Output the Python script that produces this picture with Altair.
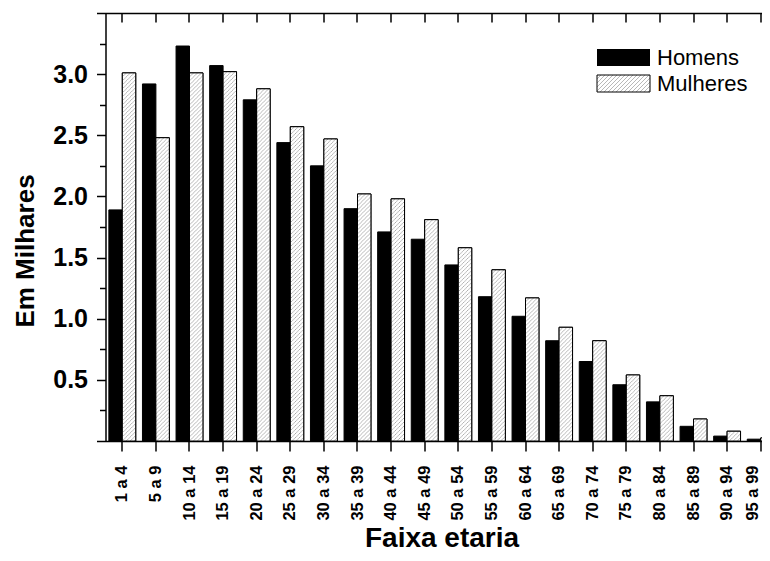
import altair as alt
import pandas as pd
from urllib.parse import quote

categories = ["1 a 4", "5 a 9", "10 a 14", "15 a 19", "20 a 24", "25 a 29", "30 a 34",
              "35 a 39", "40 a 44", "45 a 49", "50 a 54", "55 a 59", "60 a 64", "65 a 69",
              "70 a 74", "75 a 79", "80 a 84", "85 a 89", "90 a 94", "95 a 99"]
homens = [1.89, 2.92, 3.23, 3.07, 2.79, 2.44, 2.25, 1.90, 1.71, 1.65,
          1.44, 1.18, 1.02, 0.82, 0.65, 0.46, 0.32, 0.12, 0.04, 0.015]
mulheres = [3.01, 2.48, 3.01, 3.02, 2.88, 2.57, 2.47, 2.02, 1.98, 1.81,
            1.58, 1.40, 1.17, 0.93, 0.82, 0.54, 0.37, 0.18, 0.08, 0.025]
series = ["Homens", "Mulheres"]
y_ticks = [0, 0.25, 0.5, 0.75, 1.0, 1.25, 1.5, 1.75, 2.0, 2.25, 2.5, 2.75, 3.0, 3.25, 3.5]

df = pd.DataFrame({
    "faixa": categories * 2,
    "sexo": ["Homens"] * len(categories) + ["Mulheres"] * len(categories),
    "valor": homens + mulheres,
})
leg_df = pd.DataFrame({"sexo": series})

FONT = "Liberation Sans"

hatch_svg = (
    "<svg xmlns='http://www.w3.org/2000/svg'>"
    "<defs><pattern id='h' patternUnits='userSpaceOnUse' width='4' height='4'>"
    "<path d='M-1,1 l2,-2 M0,4 l4,-4 M3,5 l2,-2' stroke='#9a9a9a' stroke-width='0.7'/>"
    "</pattern></defs>"
    "<rect width='100%' height='100%' fill='white'/>"
    "<rect width='100%' height='100%' fill='url(#h)'/>"
    "</svg>"
)
HATCH = "data:image/svg+xml;charset=utf-8," + quote(hatch_svg, safe="")

# the frame of the original runs past the right edge of the picture
x_scale = alt.Scale(paddingInner=0.2, paddingOuter=0.1, range=[0, 672])
xoff = alt.XOffset("sexo:N", sort=series, scale=alt.Scale(paddingInner=0, paddingOuter=0))
y_scale = alt.Scale(domain=[0, 3.5], nice=False, zero=True)

last_cat = categories[-1]

bars = alt.Chart(df).mark_bar(stroke="black", strokeWidth=1).encode(
    x=alt.X("faixa:N", sort=categories, scale=x_scale, axis=alt.Axis(
        orient="bottom", labelAngle=270, labelAlign="right", labelBaseline="middle",
        labelFontSize=16.5, labelFontWeight="bold", labelPadding=14, tickSize=10,
        labelOffset={"condition": {"test": f"datum.value === '{last_cat}'", "value": -8}, "value": 0},
        labelOverlap=False, title="Faixa etaria", titleFontSize=28,
        titleFontWeight="bold", titleY=105, titleBaseline="alphabetic")),
    xOffset=xoff,
    y=alt.Y("valor:Q", scale=y_scale, axis=alt.Axis(
        orient="left", values=y_ticks,
        labelExpr="datum.value > 0 && datum.value < 3.5 && datum.value % 0.5 === 0 ? format(datum.value, '.1f') : ''",
        labelFontSize=25, labelFontWeight="bold", labelPadding=9,
        tickSize={"condition": {"test": "datum.value % 0.5 === 0", "value": 9}, "value": 6},
        labelOverlap=False, title="Em Milhares", titleFontSize=26, titleFontWeight="bold",
        titleAngle=270, titleX=-72.5, titleY=237.5, titleAlign="center",
        titleBaseline="alphabetic")),
    fill=alt.Fill("sexo:N", scale=alt.Scale(domain=series, range=["black", "white"]), legend=None),
)

hatch = alt.Chart(df).transform_filter("datum.sexo == 'Mulheres'").mark_image(aspect=False).encode(
    x=alt.X("faixa:N", sort=categories, scale=x_scale, axis=alt.Axis(
        orient="top", ticks=False, labels=False, domain=True, title="")),
    xOffset=xoff,
    y=alt.Y("valor:Q", scale=y_scale, axis=None),
    y2=alt.datum(0),
    url=alt.value(HATCH),
)

outline = alt.Chart(df).transform_filter("datum.sexo == 'Mulheres'").mark_bar(
    fill="transparent", stroke="black", strokeWidth=1).encode(
    x=alt.X("faixa:N", sort=categories, scale=x_scale, axis=alt.Axis(
        orient="top", offset=-9, tickSize=9, domain=False, labels=False, title="")),
    xOffset=xoff,
    y=alt.Y("valor:Q", scale=y_scale, axis=None),
)

leg_h = alt.Chart(leg_df).transform_filter("datum.sexo == 'Homens'").mark_rect(fill="black").encode(
    x=alt.value(491.5), x2=alt.value(544.5), y=alt.value(36), y2=alt.value(53))
leg_m_img = alt.Chart(leg_df).transform_filter("datum.sexo == 'Mulheres'").mark_image(aspect=False).encode(
    x=alt.value(491.5), x2=alt.value(544.5), y=alt.value(62), y2=alt.value(79), url=alt.value(HATCH))
leg_m = alt.Chart(leg_df).transform_filter("datum.sexo == 'Mulheres'").mark_rect(
    fill="transparent", stroke="black", strokeWidth=1).encode(
    x=alt.value(491.5), x2=alt.value(544.5), y=alt.value(62), y2=alt.value(79))
leg_t_h = alt.Chart(leg_df).transform_filter("datum.sexo == 'Homens'").mark_text(
    align="left", baseline="middle", fontSize=22, font=FONT, color="black").encode(
    text="sexo:N", x=alt.value(551.5), y=alt.value(45))
leg_t_m = alt.Chart(leg_df).transform_filter("datum.sexo == 'Mulheres'").mark_text(
    align="left", baseline="middle", fontSize=22, font=FONT, color="black").encode(
    text="sexo:N", x=alt.value(551.5), y=alt.value(71))

chart = alt.layer(bars, hatch, outline, leg_h, leg_m_img, leg_m, leg_t_h, leg_t_m).resolve_axis(
    x="independent", y="independent"
).properties(
    width=656.5, height=428,
    padding={"left": 97.5, "top": 5, "right": 0, "bottom": 112},
    autosize=alt.AutoSizeParams(type="none"),
).configure_view(
    strokeWidth=0
).configure_axis(
    grid=False, domainColor="black", domainWidth=1.5, tickColor="black", tickWidth=1.5,
    labelColor="black", titleColor="black", labelFont=FONT, titleFont=FONT
)

chart.save("out.html", embed_options={"renderer": "svg", "actions": False})
